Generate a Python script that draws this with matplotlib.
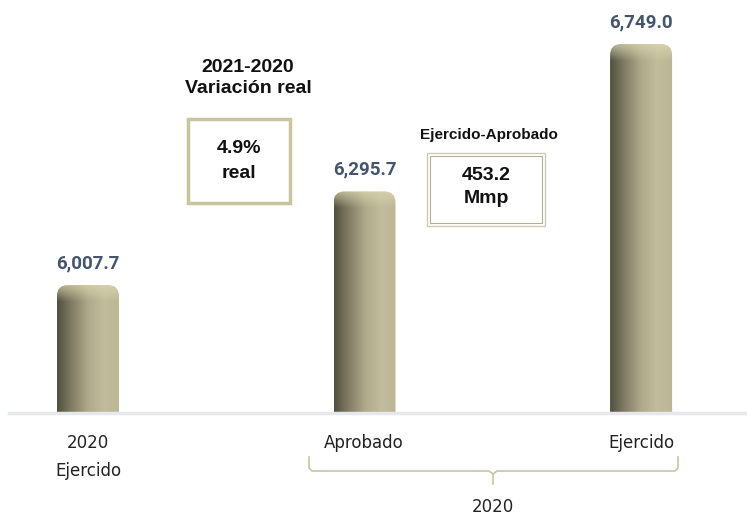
import numpy as np
import matplotlib.pyplot as plt
from matplotlib.patches import FancyBboxPatch, Rectangle
from matplotlib.lines import Line2D
from matplotlib.colors import to_rgb

# data
categories = ['2020\nEjercido', 'Aprobado', 'Ejercido']
values = [6007.7, 6295.7, 6749.0]
value_labels = ['6,007.7', '6,295.7', '6,749.0']
group_label = '2020'
var_title = '2021-2020\nVariación real'
var_box = '4.9%\nreal'
diff_title = 'Ejercido-Aprobado'
diff_box = '453.2\nMmp'

W, H = 747, 519
fig = plt.figure(figsize=(W / 100, H / 100), dpi=100)
ax = fig.add_axes([0, 106 / H, 1, 413 / H])
y_base = 5614
y_per_px = 3.076
x_per_px = 1 / 276.5
ax.set_xlim(-0.318, 2.383)
ax.set_ylim(y_base, y_base + 413 * y_per_px)
ax.axis('off')


def fx(px):
    return px / W


def fy(py):
    return 1 - py / H


# horizontal gradient for the cylinders
stops = [(0.0, '#51503e'), (0.2, '#7b7860'), (0.5, '#afaa8b'),
         (0.75, '#c1bc9b'), (1.0, '#bbb696')]
hx = np.linspace(0, 1, 120)
hcol = np.stack([np.interp(hx, [s[0] for s in stops], [to_rgb(s[1])[i] for s in stops])
                 for i in range(3)], axis=-1)
top_col = np.array(to_rgb('#ddd8b2'))

bar_w = 62 * x_per_px
bars = ax.bar(range(len(values)), [v - y_base for v in values], bottom=y_base,
              width=bar_w, color='none', edgecolor='none')

for rect, lab in zip(bars, value_labels):
    x0, w = rect.get_x(), rect.get_width()
    top = rect.get_y() + rect.get_height()
    bot = y_base - 60
    patch = FancyBboxPatch((x0, bot), w, top - bot,
                           boxstyle='round,pad=0,rounding_size=%f' % (11 * x_per_px),
                           mutation_aspect=y_per_px / x_per_px,
                           facecolor='none', edgecolor='none')
    ax.add_patch(patch)
    n = 200
    ys = np.linspace(bot, top, n)
    dist = (top - ys) / y_per_px  # pixels from top
    k = np.clip(1 - dist / 16, 0, 1)[:, None, None] * 0.7
    img = hcol[None, :, :] * (1 - k) + top_col[None, None, :] * k
    im = ax.imshow(img, extent=[x0, x0 + w, bot, top], origin='lower',
                   aspect='auto', interpolation='bilinear', zorder=2)
    im.set_clip_path(patch)
    ax.text(x0 + w / 2, top + 13 * y_per_px, lab, ha='center', va='bottom',
            fontsize=13.5, fontweight='bold', color='#44546a', family='Roboto')

ax.set_xlim(-0.318, 2.383)
ax.set_ylim(y_base, y_base + 413 * y_per_px)

# baseline
fig.add_artist(Line2D([fx(9), 1], [fy(413), fy(413)], color='#e6e8ec', lw=2.5))

# category labels
cat_x = [88, 364, 641]
for cx, c in zip(cat_x, categories):
    fig.text(fx(cx), fy(434), c, ha='center', va='top', fontsize=12,
             color='#222222', family='DejaVu Sans', linespacing=1.7)

# brace under 2020 group
bc = '#c8c3a0'
fig.add_artist(Line2D([fx(p) for p in [309, 309, 312, 489, 493, 493]],
                      [fy(p) for p in [457, 468, 471, 471, 474, 484]], color=bc, lw=1.2))
fig.add_artist(Line2D([fx(p) for p in [493, 497, 675, 678, 678]],
                      [fy(p) for p in [474, 471, 471, 468, 457]], color=bc, lw=1.2))
fig.text(fx(493), fy(507), group_label, ha='center', va='center', fontsize=12,
         color='#222222', family='DejaVu Sans')

# real variation annotation
fig.text(fx(248), fy(78), var_title, ha='center', va='center', fontsize=14,
         fontweight='bold', color='#111111', family='Liberation Sans', linespacing=1.3)
fig.add_artist(Rectangle((fx(188), fy(203)), fx(102), 84 / H, transform=fig.transFigure,
                         facecolor='white', edgecolor='#c9c4a0', lw=2.5))
fig.text(fx(239), fy(161), var_box, ha='center', va='center', fontsize=14,
         fontweight='bold', color='#111111', family='Liberation Sans', linespacing=1.55)

# ejercido - aprobado annotation
fig.text(fx(489), fy(135), diff_title, ha='center', va='center', fontsize=11,
         fontweight='bold', color='#111111', family='Liberation Sans')
fig.add_artist(Rectangle((fx(427), fy(226)), fx(118), 73 / H, transform=fig.transFigure,
                         facecolor='white', edgecolor='#cdc9b2', lw=1))
fig.add_artist(Rectangle((fx(430), fy(223)), fx(112), 67 / H, transform=fig.transFigure,
                         facecolor='none', edgecolor='#b3af96', lw=0.8))
fig.text(fx(486), fy(187), diff_box, ha='center', va='center', fontsize=14,
         fontweight='bold', color='#111111', family='Liberation Sans', linespacing=1.5)

fig.savefig('out.png', dpi=100)
